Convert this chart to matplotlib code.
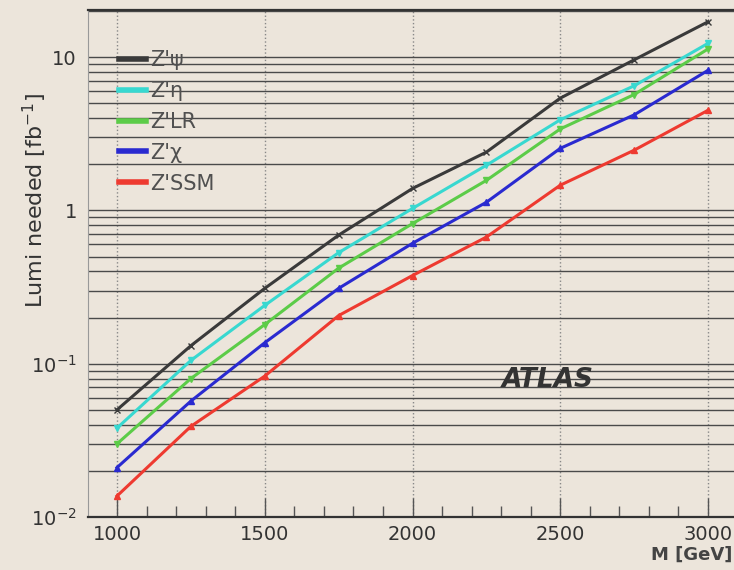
import matplotlib
matplotlib.use('Agg')
import matplotlib.pyplot as plt
from matplotlib.ticker import FixedLocator, MultipleLocator, LogLocator, NullFormatter

# masses (GeV)
masa = [1000, 1250, 1500, 1750, 2000, 2250, 2500, 2750, 3000]

# luminosity needed (fb^-1)
lumi_psi = [0.050, 0.131, 0.31, 0.69, 1.39, 2.4, 5.4, 9.6, 17.0]
lumi_eta = [0.038, 0.105, 0.24, 0.53, 1.03, 1.97, 3.9, 6.5, 12.3]
lumi_lr = [0.030, 0.080, 0.18, 0.42, 0.82, 1.57, 3.4, 5.7, 11.3]
lumi_chi = [0.021, 0.057, 0.137, 0.31, 0.61, 1.13, 2.54, 4.2, 8.2]
lumi_ssm = [0.0137, 0.039, 0.083, 0.206, 0.376, 0.67, 1.46, 2.47, 4.5]

series = [lumi_psi, lumi_eta, lumi_lr, lumi_chi, lumi_ssm]
nombres = ["Z'\u03c8", "Z'\u03b7", "Z'LR", "Z'\u03c7", "Z'SSM"]
colores = ["#3a3a3a", "#38d8d0", "#5ccc48", "#2a2ad0", "#ee3a30"]
marcas = ["x", "v", "v", "^", "^"]

fondo = "#ece5db"
fig = plt.figure(figsize=(7.34, 5.70), dpi=100, facecolor=fondo)
ax = fig.add_axes([0.1199, 0.093, 0.885, 0.8895], facecolor=fondo)

for y, nom, col, mk in zip(series, nombres, colores, marcas):
    ax.plot(masa, y, color=col, lw=2.2, marker=mk, ms=4.5, mec=col, mfc=col, label=nom)

ax.set_yscale('log')
ax.set_xlim(902, 3100)
ax.set_ylim(0.01, 20.3)

# horizontal grid at every major and minor log position (solid, dark)
ax.yaxis.set_major_locator(FixedLocator([0.01, 0.1, 1, 10]))
ax.yaxis.set_minor_locator(LogLocator(base=10, subs=range(2, 10)))
ax.yaxis.set_minor_formatter(NullFormatter())
ax.set_yticklabels(['$10^{-2}$', '$10^{-1}$', '1', '10'])
ax.grid(True, which='both', axis='y', color='#4a4a4a', lw=1.0, ls='-')

ax.xaxis.set_major_locator(FixedLocator([1000, 1500, 2000, 2500, 3000]))
ax.xaxis.set_minor_locator(MultipleLocator(100))
ax.grid(True, which='major', axis='x', color='#888888', lw=1.0, ls=':')
ax.set_axisbelow(True)

ax.tick_params(axis='x', which='major', direction='in', length=14, width=1, color='#555555',
               labelsize=14, labelcolor='#333333', pad=6)
ax.tick_params(axis='x', which='minor', direction='in', length=8, width=1, color='#555555')
ax.tick_params(axis='y', which='both', direction='in', length=0, labelsize=14,
               labelcolor='#333333', pad=8)

for s in ['top', 'bottom']:
    ax.spines[s].set_color('#333333')
    ax.spines[s].set_linewidth(1.6)
ax.spines['left'].set_color('#999999')
ax.spines['right'].set_visible(False)

ax.set_ylabel('Lumi needed [fb$^{-1}$]', fontsize=16, color='#333333')
ax.yaxis.set_label_coords(-0.06, 0.625)
fig.text(0.998, 0.027, 'M [GeV]', ha='right', va='center', fontsize=13,
         fontweight='bold', color='#444444')

ax.text(0.707, 0.27, 'ATLAS', transform=ax.transAxes, fontsize=19, fontweight='bold',
        fontstyle='italic', color='#333333', ha='center', va='center')

leg = ax.legend(loc='upper left', bbox_to_anchor=(0.035, 0.937), frameon=False,
                fontsize=15, handlelength=1.3, handletextpad=0.2, labelspacing=0.52,
                borderaxespad=0)
for t in leg.get_texts():
    t.set_color('#505050')
for h in leg.legend_handles:
    h.set_marker('')
    h.set_linewidth(4)

fig.savefig('out.png', dpi=100, facecolor=fondo)
